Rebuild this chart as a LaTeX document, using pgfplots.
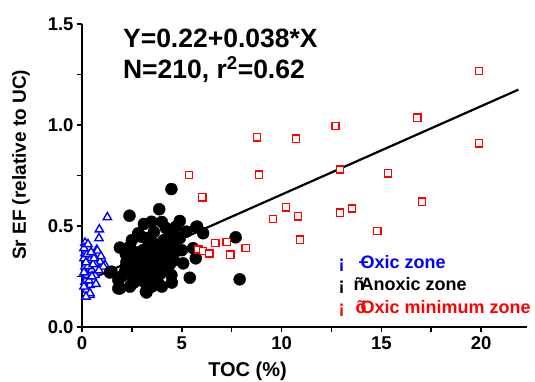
\documentclass[border=0pt]{standalone}
\usepackage{pgfplots}
\pgfplotsset{compat=1.18}
\usepackage{fontspec}
\setmainfont{Liberation Sans}
\definecolor{pblue}{RGB}{0,0,255}
\definecolor{pred}{RGB}{255,0,0}
\newcommand{\fs}[1]{\fontsize{#1}{#1}\selectfont}
\begin{document}
\begin{tikzpicture}
\useasboundingbox (0,0) rectangle (535bp,382bp);
\begin{axis}[
  at={(82bp,55bp)}, anchor=south west,
  scale only axis, width=445bp, height=303bp,
  xmin=0, xmax=22.3, ymin=0, ymax=1.5,
  axis x line=bottom, axis y line=left,
  axis line style={-, line width=1.8bp},
  tick style={line width=1.5bp, black},
  tick align=outside,
  major tick length=5bp, minor tick length=5bp,
  xtick={0,5,10,15,20}, minor xtick={2.5,7.5,12.5,17.5,22.5},
  ytick={0,0.5,1,1.5}, minor ytick={0.25,0.75,1.25},
  yticklabel style={/pgf/number format/.cd, fixed, fixed zerofill, precision=1},
  /pgf/number format/assume math mode=true,
  ticklabel style={font=\fs{18.5bp}\bfseries},
  xticklabel style={yshift=-1bp},
  xlabel={TOC (\%)}, ylabel={Sr EF (relative to UC)},
  label style={font=\fs{19bp}\bfseries},
  xlabel style={at={(axis description cs:0.372,-0.162)}, anchor=base, font=\fs{20bp}\bfseries},
  ylabel style={at={(axis description cs:-0.137,0.535)}, anchor=center},
  clip=false,
]
% Oxic zone
\addplot[only marks, mark=triangle*, mark size=4.8bp, pblue, mark options={fill=white, line width=1.4bp}] coordinates {
(1.27,0.543)(0.87,0.483)(0.85,0.439)(0.15,0.417)(0.73,0.381)(0.32,0.39)(0.15,0.365)(0.57,0.356)
(0.9,0.323)(0.4,0.332)(0.65,0.315)(1.15,0.307)(0.15,0.299)(0.48,0.282)(0.23,0.257)(0.65,0.257)
(0.15,0.224)(0.4,0.208)(0.23,0.183)(0.4,0.158)(0.77,0.378)(1.07,0.299)(0.7,0.213)(0.4,0.167)
(0.1,0.34)(0.25,0.36)(0.1,0.27)(0.3,0.3)(0.55,0.31)(0.1,0.2)(0.2,0.15)(0.85,0.28)(0.35,0.23)
(0.6,0.34)(0.1,0.39)(0.45,0.37)(0.3,0.41)(0.95,0.35)(0.2,0.32)(0.5,0.25)
};
% Anoxic zone
\addplot[only marks, mark=*, mark size=6bp, black] coordinates {
(4.48,0.683)(3.87,0.583)(2.38,0.551)(3.48,0.521)(4.9,0.525)(4.7,0.496)(4.57,0.472)(5.23,0.472)
(5.73,0.496)(2.82,0.464)(2.98,0.447)(4.4,0.442)(1.9,0.393)(2.4,0.398)(3.4,0.418)(3.98,0.406)
(4.73,0.376)(3.07,0.381)(2.73,0.356)(3.57,0.364)(4.15,0.323)(5.07,0.315)(2.23,0.323)(2.57,0.307)
(3.23,0.307)(3.73,0.299)(1.4,0.27)(2.15,0.274)(2.9,0.274)(4.23,0.282)(5.4,0.244)(1.82,0.233)
(2.57,0.233)(3.4,0.241)(4.48,0.257)(1.82,0.191)(3.07,0.226)(3.23,0.171)(3.9,0.261)(5.77,0.497)
(6.07,0.464)(7.7,0.444)(5.57,0.39)(5.7,0.34)(7.9,0.236)(2.8,0.455)(1.48,0.274)(1.9,0.191)(3.2,0.175)
(2.5,0.28)(2.7,0.25)(3.0,0.29)(3.3,0.27)(3.6,0.25)(3.8,0.22)(4.0,0.3)(4.2,0.35)(4.4,0.31)
(2.4,0.2)(2.0,0.25)(2.2,0.3)(3.5,0.33)(3.1,0.33)(2.8,0.37)(3.3,0.39)(3.7,0.41)(4.1,0.43)
(4.3,0.39)(4.6,0.42)(4.9,0.44)(2.6,0.22)(4.0,0.2)(3.5,0.2)(4.5,0.22)(2.2,0.36)(3.9,0.35)
(4.6,0.33)(5.0,0.38)(3.2,0.44)(3.6,0.47)(4.2,0.49)(4.0,0.52)(3.1,0.51)(2.5,0.43)
};
% Oxic minimum zone
\addplot[only marks, mark=square*, mark size=3.6bp, pred, mark options={fill=white, line width=1.4bp}] coordinates {
(19.9,1.267)(16.8,1.036)(12.7,0.995)(8.77,0.939)(10.73,0.932)(19.9,0.909)(12.93,0.78)(5.37,0.752)
(8.87,0.754)(15.33,0.761)(6.03,0.642)(17.03,0.62)(10.23,0.593)(9.57,0.535)(10.83,0.548)(12.93,0.566)
(13.53,0.587)(14.8,0.476)(10.93,0.432)(6.68,0.416)(7.25,0.421)(5.83,0.384)(6.07,0.376)(6.38,0.364)
(7.43,0.358)(8.2,0.391)
};
% regression line
\addplot[black, line width=2.2bp, no marks] coordinates {(0.05,0.22)(21.87,1.175)};
% annotations
\node[anchor=base west, inner sep=0pt, font=\fs{26.5bp}\bfseries] at (axis cs:2.05,1.386) {Y=0.22+0.038*X};
\node[anchor=base west, inner sep=0pt, font=\fs{26.5bp}\bfseries] at (axis cs:2.05,1.228) {N=210, r\textsuperscript{2}=0.62};
% legend text
\node[anchor=base west, inner sep=0pt, font=\fs{18bp}\bfseries, text=pblue] at (axis cs:12.85,0.292) {¡};
\node[anchor=base west, inner sep=0pt, font=\fs{18bp}\bfseries, text=black] at (axis cs:12.85,0.183) {¡};
\node[anchor=base west, inner sep=0pt, font=\fs{18bp}\bfseries, text=pred] at (axis cs:12.85,0.069) {¡};
\node[anchor=base west, inner sep=0pt, font=\fs{18bp}\bfseries, text=pblue] at (axis cs:13.95,0.292) {\makebox[0pt][l]{\kern-2bp\raisebox{1bp}{–}}Oxic zone};
\node[anchor=base west, inner sep=0pt, font=\fs{18bp}\bfseries, text=black] at (axis cs:13.95,0.183) {\makebox[0pt][r]{ñ\kern-4bp}Anoxic zone};
\node[anchor=base west, inner sep=0pt, font=\fs{18bp}\bfseries, text=pred] at (axis cs:13.95,0.069) {\makebox[0pt][r]{õ\kern-6bp}Oxic minimum zone};
\end{axis}
\end{tikzpicture}
\end{document}
